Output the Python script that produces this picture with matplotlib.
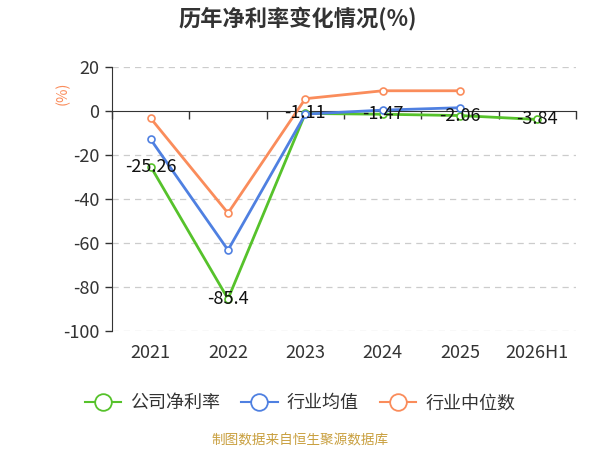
import matplotlib
matplotlib.use('Agg')
import matplotlib.pyplot as plt
from matplotlib.lines import Line2D

plt.rcParams['font.family'] = ['Noto Sans CJK SC', 'DejaVu Sans']
plt.rcParams['axes.unicode_minus'] = False

# 数据
years = ['2021', '2022', '2023', '2024', '2025', '2026H1']
company = [-25.26, -85.4, -1.11, -1.47, -2.06, -3.84]
ind_mean = [-12.9, -63.2, -1.4, 0.4, 1.5]
ind_median = [-3.3, -46.4, 5.6, 9.2, 9.2]
company_labels = ['-25.26', '-85.4', '-1.11', '-1.47', '-2.06', '-3.84']
yticks = [20, 0, -20, -40, -60, -80, -100]

c_green = '#56c22b'
c_blue = '#4f80e1'
c_orange = '#fa8c5b'

fig = plt.figure(figsize=(6, 4.5), dpi=100)
ax = fig.add_axes([0.1867, 0.2644, 0.7733, 0.5867])

x = list(range(len(years)))

# 网格线
for v in yticks:
    if v != 0:
        ax.axhline(v, color='#cccccc', lw=0.9, ls=(0, (5, 4)), zorder=0)

ax.plot(x, company, color=c_green, lw=2, marker='o', ms=5,
        mfc='white', mec=c_green, mew=1.2, zorder=3)
ax.plot(x[:len(ind_mean)], ind_mean, color=c_blue, lw=2, marker='o', ms=5,
        mfc='white', mec=c_blue, mew=1.2, zorder=4)
ax.plot(x[:len(ind_median)], ind_median, color=c_orange, lw=2, marker='o', ms=5,
        mfc='white', mec=c_orange, mew=1.2, zorder=5)

for xi, v, t in zip(x, company, company_labels):
    ax.text(xi, v, t, ha='center', va='center', fontsize=13,
            color='#111111', zorder=6)

ax.set_xlim(-0.5, len(years) - 0.5)
ax.set_ylim(-100, 20)

# y轴
ax.set_yticks(yticks)
ax.tick_params(axis='y', length=5, width=1, color='#333333', pad=4,
               labelsize=13, labelcolor='#333333')
ax.spines['left'].set_color('#333333')
ax.spines['right'].set_visible(False)
ax.spines['top'].set_visible(False)

# x轴在0处
ax.spines['bottom'].set_position(('data', 0))
ax.spines['bottom'].set_color('#333333')
ax.set_xticks([i - 0.5 for i in range(len(years) + 1)])
ax.set_xticklabels([])
ax.tick_params(axis='x', length=6, width=1, color='#333333', direction='out')

sec = ax.secondary_xaxis(0)
sec.spines['bottom'].set_visible(False)
sec.set_xticks(x, years)
sec.tick_params(length=0, pad=9, labelsize=13, labelcolor='#333333')

ax.text(-0.106, 0.90, '(%)', transform=ax.transAxes, rotation=90,
        ha='center', va='center', fontsize=10.5, color=c_orange)

fig.text(0.497, 0.96, '历年净利率变化情况(%)', ha='center', va='center',
         fontsize=16, fontweight='bold', color='#333333')

handles = [Line2D([], [], color=c, lw=1.5, marker='o', ms=12, mfc='white',
                  mec=c, mew=1.3) for c in (c_green, c_blue, c_orange)]
fig.legend(handles, ['公司净利率', '行业均值', '行业中位数'], loc='center',
           bbox_to_anchor=(0.5, 0.104), ncol=3, frameon=False, fontsize=13,
           labelcolor='#333333', handlelength=2.0, columnspacing=1.2,
           handletextpad=0.5)

fig.text(0.5, 0.022, '制图数据来自恒生聚源数据库', ha='center', va='center',
         fontsize=9.8, color='#c9a040')

fig.savefig('out.png', dpi=100)
